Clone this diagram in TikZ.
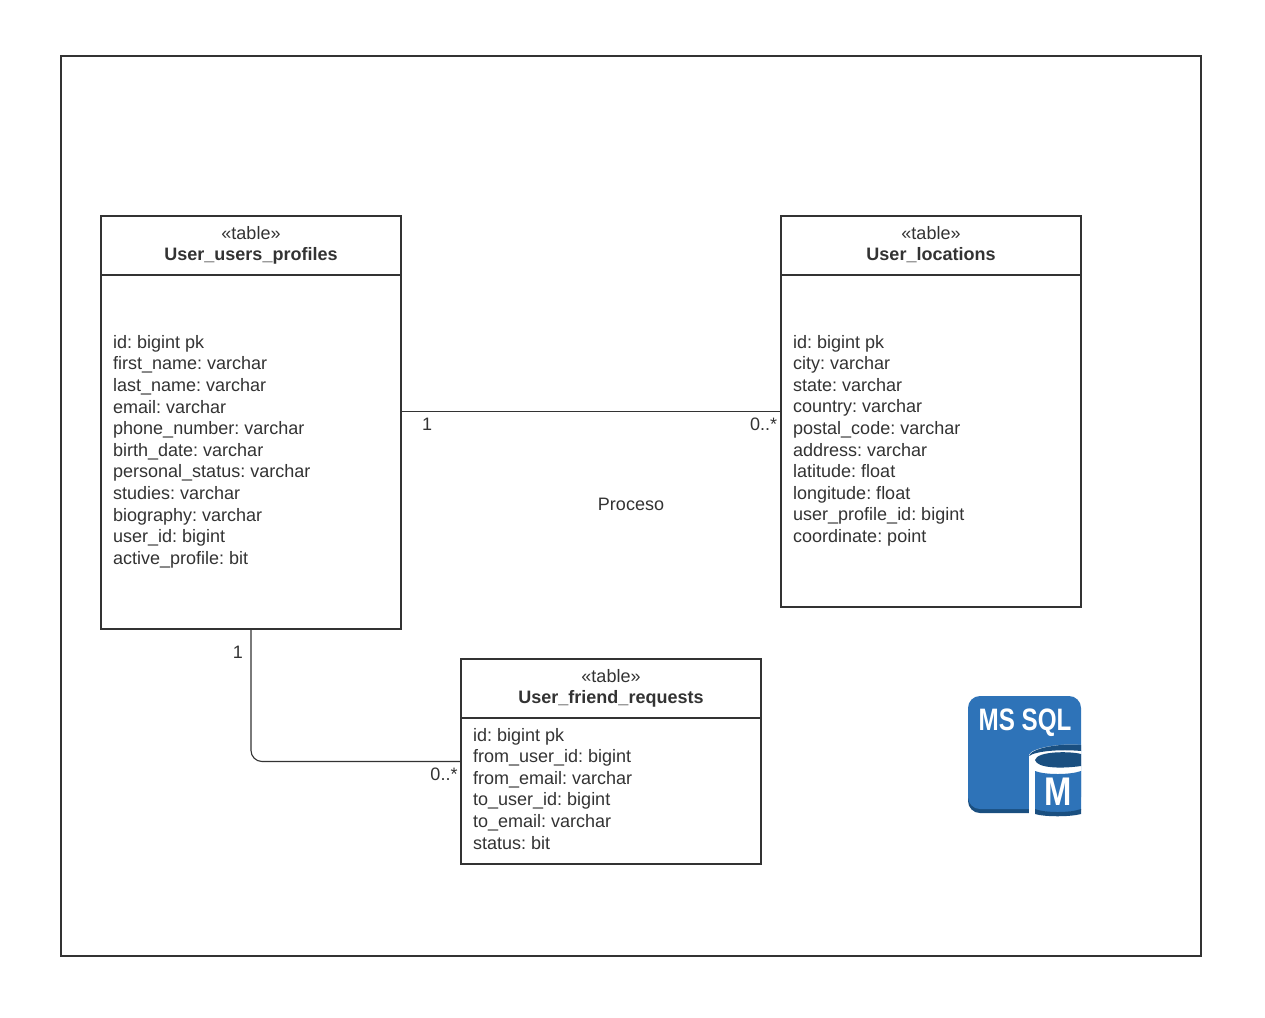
\documentclass[tikz,border=0pt]{standalone}
\usepackage{fontspec}
\setmainfont{Liberation Sans}
\frenchspacing
\definecolor{ink}{HTML}{333333}
\definecolor{msblue}{HTML}{2E73B8}
\definecolor{msdark}{HTML}{1A4F80}
\tikzset{
  x=1pt,y=-1pt,
  tablebox/.style={draw=ink,line width=2pt,fill=white,minimum width=300pt,anchor=north west,inner sep=0pt},
  headtext/.style={text=ink,font=\fontsize{18}{21.6}\selectfont,align=center,anchor=north,inner sep=0pt},
  bodytext/.style={text=ink,font=\fontsize{18}{21.6}\selectfont,align=left,anchor=west,inner sep=0pt},
  label/.style={text=ink,font=\fontsize{18}{21.6}\selectfont,inner sep=0pt},
  sep/.style={draw=ink,line width=2pt},
  link/.style={draw=ink,line width=1.1pt},
}
\begin{document}
\begin{tikzpicture}
\useasboundingbox (0,0) rectangle (1265,1017);
\fill[white] (0,0) rectangle (1265,1017);
\node[draw=ink,line width=2pt,minimum width=1140pt,minimum height=900pt,anchor=north west,inner sep=0pt] (frame) at (60,55) {};

% tables
\node[tablebox,minimum height=413pt] (profiles) at (100,215) {};
\node[tablebox,minimum height=391pt] (locations) at (780,215) {};
\node[tablebox,minimum height=205pt] (friend) at (460,658) {};

\node[headtext] (phead) at (251,226) {«table»\\\textbf{User\_users\_profiles}};
\node[headtext] (lhead) at (931,226) {«table»\\\textbf{User\_locations}};
\node[headtext] (fhead) at (611,669) {«table»\\\textbf{User\_friend\_requests}};

\draw[sep] (100,275) -- (400,275);
\draw[sep] (780,275) -- (1080,275);
\draw[sep] (460,718) -- (760,718);

\node[bodytext] (pbody) at (113,451.6) {id: bigint pk\\first\_name: varchar\\last\_name: varchar\\email: varchar\\phone\_number: varchar\\birth\_date: varchar\\personal\_status: varchar\\studies: varchar\\biography: varchar\\user\_id: bigint\\active\_profile: bit};
\node[bodytext] (lbody) at (793,440.7) {id: bigint pk\\city: varchar\\state: varchar\\country: varchar\\postal\_code: varchar\\address: varchar\\latitude: float\\longitude: float\\user\_profile\_id: bigint\\coordinate: point};
\node[bodytext] (fbody) at (473,788.6) {id: bigint pk\\from\_user\_id: bigint\\from\_email: varchar\\to\_user\_id: bigint\\to\_email: varchar\\status: bit};

% connectors
\draw[link] (profiles.east |- locations.west) -- (locations.west);
\draw[link,rounded corners=11pt] (profiles.south) |- (friend.west);

% connector labels
\node[label] (l1) at (427,424) {1};
\node[label] (l2) at (763.5,424) {0..*};
\node[label] (l3) at (238,652) {1};
\node[label] (l4) at (444,774) {0..*};
\node[label] (proc) at (631,504) {Proceso};

% MS SQL icon
\fill[msdark,rounded corners=12pt] (968,780) -- (968,813) -- (1045,813) -- (1045,780) -- cycle;
\fill[msblue,rounded corners=12pt] (968,696) -- (1081,696) -- (1081,760) -- (1081,809) -- (968,809) -- cycle;
\fill[white] (1029,815) -- (1029,755) .. controls (1031,748) and (1060,743) .. (1081,745) -- (1081,816) -- (1040,816) -- cycle;
\fill[msdark] (1029,756) .. controls (1031,748) and (1060,743) .. (1081,745) -- (1081,751) .. controls (1060,749) and (1036,751) .. (1029,756) -- cycle;
\fill[msdark] (1035,760) .. controls (1037,751) and (1070,751) .. (1081,754) -- (1081,766) .. controls (1060,769) and (1037,768) .. (1035,760) -- cycle;
\fill[msblue] (1035,771) .. controls (1045,775) and (1070,775) .. (1081,771) -- (1081,810) .. controls (1070,813) and (1045,813) .. (1035,810) -- cycle;
\fill[msdark] (1035,809) .. controls (1045,813) and (1070,813) .. (1081,809) -- (1081,814) .. controls (1070,817) and (1045,817) .. (1035,814) -- cycle;
\node[text=white,font=\fontsize{31}{31}\bfseries\selectfont,inner sep=0pt,xscale=0.78] (sqltxt) at (1025,722.5) {MS SQL};
\node[text=white,font=\fontsize{40}{40}\bfseries\selectfont,inner sep=0pt,xscale=0.82] (mtxt) at (1058,792) {M};
\end{tikzpicture}
\end{document}
